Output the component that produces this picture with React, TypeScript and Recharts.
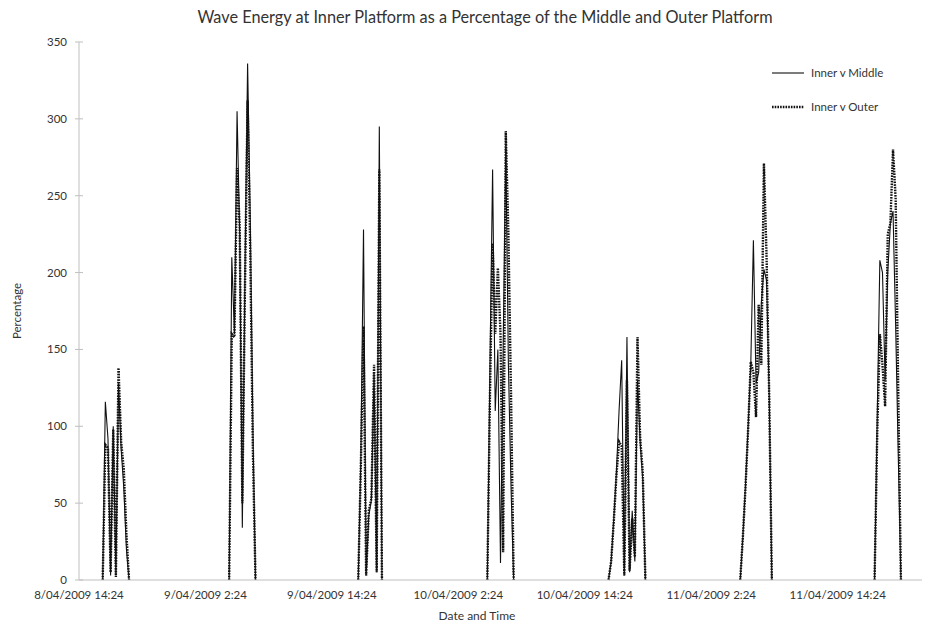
import { LineChart, Line, XAxis, YAxis } from "recharts";

// time is hours after 8/04/2009 14:24; readings every 15 minutes within each burst
const STEP = 0.25;
const burstStarts = [2.25, 14.25, 26.5, 38.75, 50.25, 62.75, 75.5];

const innerVsMiddle = [
  [0, 116, 92, 3, 100, 3, 128, 85, 60, 20, 0],
  [0, 210, 160, 305, 225, 34, 200, 336, 236, 100, 0],
  [0, 80, 228, 3, 42, 52, 135, 5, 295, 0],
  [0, 140, 267, 110, 150, 11, 150, 282, 140, 60, 0],
  [0, 12, 40, 70, 110, 143, 3, 158, 5, 45, 12, 130, 90, 65, 0],
  [0, 28, 62, 100, 140, 221, 128, 135, 180, 202, 195, 120, 0],
  [0, 105, 208, 200, 130, 200, 232, 240, 165, 80, 0],
];

const innerVsOuter = [
  [0, 88, 86, 5, 98, 2, 138, 90, 72, 30, 0],
  [0, 160, 158, 268, 230, 50, 190, 312, 215, 85, 0],
  [0, 75, 165, 3, 45, 53, 140, 5, 267, 0],
  [0, 120, 219, 160, 203, 160, 18, 292, 225, 120, 0],
  [0, 12, 38, 68, 90, 87, 3, 130, 6, 40, 15, 158, 93, 70, 0],
  [0, 28, 60, 98, 142, 135, 106, 179, 140, 271, 210, 120, 0],
  [0, 95, 160, 140, 113, 225, 232, 280, 248, 120, 0],
];

const xTicks = [0, 12, 24, 36, 48, 60, 72];
const xTickLabels = [
  "8/04/2009 14:24",
  "9/04/2009 2:24",
  "9/04/2009 14:24",
  "10/04/2009 2:24",
  "10/04/2009 14:24",
  "11/04/2009 2:24",
  "11/04/2009 14:24",
];
const yTicks = [0, 50, 100, 150, 200, 250, 300, 350];

type Row = { t: number; middle: number | null; outer: number | null };

const rows: Row[] = [];
burstStarts.forEach((start, b) => {
  innerVsMiddle[b].forEach((m, i) => {
    rows.push({ t: start + i * STEP, middle: m, outer: innerVsOuter[b][i] });
  });
  // break the lines between bursts
  if (b < burstStarts.length - 1) {
    rows.push({ t: (start + burstStarts[b + 1]) / 2 + 2, middle: null, outer: null });
  }
});

const font = "Lato, 'Open Sans', sans-serif";
const textColor = "#333";
const axisColor = "#bfbfbf";
const DOTS = "1.6 1.1";
const Y_TICK_SIZE = 4;
const Y_TICK_MARGIN = 8;

// y ticks cross the axis line, like the spreadsheet default
const YTick = (props: any) => {
  const { x, y, payload } = props;
  const axisX = x + Y_TICK_SIZE + Y_TICK_MARGIN;
  return (
    <g>
      <line x1={axisX - 4} y1={y} x2={axisX + 4} y2={y} stroke={axisColor} />
      <text
        x={x}
        y={y}
        dy={4}
        textAnchor="end"
        fontSize={11.5}
        fontFamily={font}
        fill={textColor}
      >
        {payload.value}
      </text>
    </g>
  );
};

function App() {
  return (
    <div
      style={{
        position: "absolute",
        left: 0,
        top: 0,
        width: 932,
        height: 635,
        background: "#fff",
        fontFamily: font,
        color: textColor,
      }}
    >
      <div
        style={{
          position: "absolute",
          top: 7,
          left: 0,
          width: 970,
          textAlign: "center",
          fontSize: 16.3,
        }}
      >
        Wave Energy at Inner Platform as a Percentage of the Middle and Outer Platform
      </div>

      <LineChart
        width={932}
        height={635}
        data={rows}
        margin={{ top: 42, right: 10, bottom: 25, left: 0 }}
      >
        <XAxis
          type="number"
          dataKey="t"
          domain={[0, 80]}
          ticks={xTicks}
          tickFormatter={(v: number) => xTickLabels[xTicks.indexOf(v)] ?? ""}
          tickLine={false}
          tickMargin={5}
          axisLine={{ stroke: axisColor }}
          tick={{ fill: textColor, fontSize: 11.5, fontFamily: font }}
          height={30}
          allowDataOverflow
        />
        <YAxis
          domain={[0, 350]}
          ticks={yTicks}
          width={79}
          tickSize={Y_TICK_SIZE}
          tickMargin={Y_TICK_MARGIN}
          tickLine={false}
          axisLine={{ stroke: axisColor }}
          tick={<YTick />}
        />
        <Line
          dataKey="middle"
          name="Inner v Middle"
          stroke="#111"
          strokeWidth={1.1}
          dot={false}
          activeDot={false}
          isAnimationActive={false}
        />
        <Line
          dataKey="outer"
          name="Inner v Outer"
          stroke="#111"
          strokeWidth={2.4}
          strokeDasharray={DOTS}
          dot={false}
          activeDot={false}
          isAnimationActive={false}
        />
      </LineChart>

      <div
        style={{
          position: "absolute",
          left: 0,
          top: 300,
          width: 34,
          height: 22,
          transform: "rotate(-90deg)",
          transformOrigin: "17px 11px",
          fontSize: 11.5,
          lineHeight: "22px",
          textAlign: "center",
          whiteSpace: "nowrap",
          display: "flex",
          justifyContent: "center",
        }}
      >
        Percentage
      </div>

      <div
        style={{
          position: "absolute",
          top: 608,
          left: 0,
          width: 954,
          textAlign: "center",
          fontSize: 12,
        }}
      >
        Date and Time
      </div>

      <svg
        width={160}
        height={60}
        style={{ position: "absolute", left: 770, top: 60, fontFamily: font }}
      >
        <line x1={2} y1={13} x2={34} y2={13} stroke="#111" strokeWidth={1.1} />
        <text x={41} y={17} fontSize={11.5} fill={textColor}>
          Inner v Middle
        </text>
        <line
          x1={2}
          y1={47}
          x2={34}
          y2={47}
          stroke="#111"
          strokeWidth={2.4}
          strokeDasharray={DOTS}
        />
        <text x={41} y={51} fontSize={11.5} fill={textColor}>
          Inner v Outer
        </text>
      </svg>
    </div>
  );
}

export default App;
